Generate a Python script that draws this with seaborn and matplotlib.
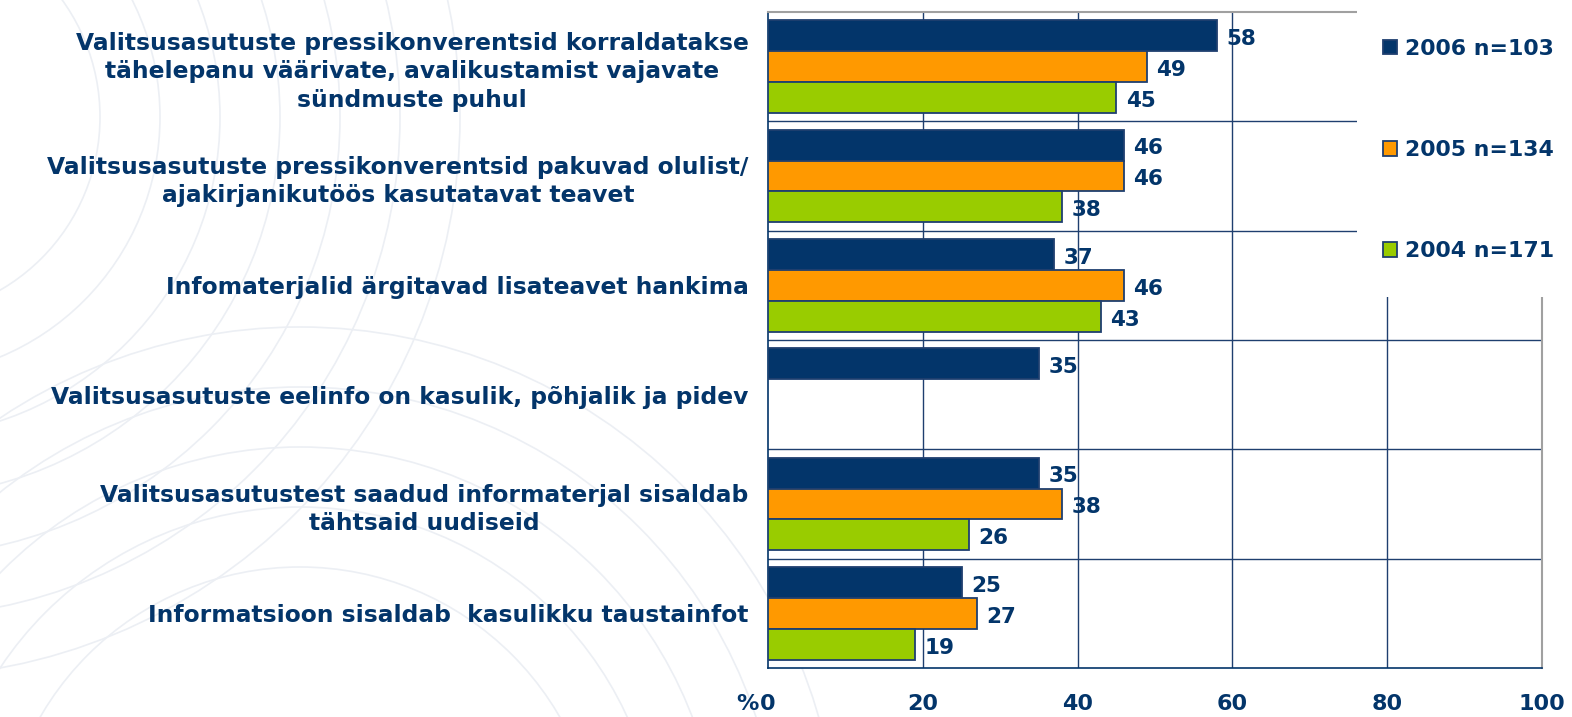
import matplotlib
matplotlib.use("Agg")
import matplotlib.pyplot as plt
from matplotlib.patches import Rectangle, Circle, Patch
from matplotlib.transforms import offset_copy
import seaborn as sns
import pandas as pd
import numpy as np

# data
categories = [
    "Valitsusasutuste pressikonverentsid korraldatakse\ntähelepanu väärivate, avalikustamist vajavate\nsündmuste puhul",
    "Valitsusasutuste pressikonverentsid pakuvad olulist/\najakirjanikutöös kasutatavat teavet",
    "Infomaterjalid ärgitavad lisateavet hankima",
    "Valitsusasutuste eelinfo on kasulik, põhjalik ja pidev",
    "Valitsusasutustest saadud informaterjal sisaldab\ntähtsaid uudiseid",
    "Informatsioon sisaldab  kasulikku taustainfot",
]
series = ["2006 n=103", "2005 n=134", "2004 n=171"]
values_2006 = [58, 46, 37, 35, 35, 25]
values_2005 = [49, 46, 46, np.nan, 38, 27]
values_2004 = [45, 38, 43, np.nan, 26, 19]
x_ticks = [0, 20, 40, 60, 80, 100]

navy = "#03356A"
colors = ["#03356A", "#FF9900", "#99CC00"]

df = pd.DataFrame({
    "cat": categories * 3,
    "series": [series[0]] * 6 + [series[1]] * 6 + [series[2]] * 6,
    "value": values_2006 + values_2005 + values_2004,
})

sns.set_style("white")
plt.rcParams["font.family"] = ["DejaVu Sans"]
fs_cat = 16.8
fs_val = 15.5
fs_tick = 16
fs_leg = 15.8

fig = plt.figure(figsize=(15.72, 7.17), dpi=100)

# faint decorative arcs in the background (left side)
for r in [2.0, 2.6, 3.2, 3.8, 4.4, 5.0, 5.6]:
    fig.add_artist(Circle((-1.0, 6.0), r, transform=fig.dpi_scale_trans,
                          fill=False, ec="#ECEFF4", lw=1.2, zorder=0))
for r in [3.0, 3.6, 4.2, 4.8, 5.4]:
    fig.add_artist(Circle((3.0, -1.5), r, transform=fig.dpi_scale_trans,
                          fill=False, ec="#ECEFF4", lw=1.2, zorder=0))

ax = fig.add_axes([768 / 1572, 1 - 668 / 717, (1542 - 768) / 1572, (668 - 12) / 717])
ax.set_axisbelow(True)

sns.barplot(data=df, y="cat", x="value", hue="series", hue_order=series,
            palette=colors, saturation=1, orient="h", width=0.85, ax=ax,
            edgecolor="#1F3F6F", linewidth=1.3, legend=False, zorder=3)

ax.set_xlim(0, 100)
ax.set_ylim(5.5, -0.5)

# value labels
for cont in ax.containers:
    for bar in cont:
        w = bar.get_width()
        if np.isnan(w) or w == 0:
            continue
        ax.text(w + 1.2, bar.get_y() + bar.get_height() / 2 + 0.03, f"{w:.0f}",
                va="center", ha="left", color=navy, fontsize=fs_val,
                fontweight="bold", zorder=4)

# grid and separators
for xv in [20, 40, 60, 80]:
    ax.axvline(xv, color="#1F3F6F", lw=1, zorder=1)
for yv in np.arange(0.5, 5.5, 1):
    ax.axhline(yv, color="#1F3F6F", lw=1, zorder=1)

ax.set_yticks(np.arange(-0.5, 6, 1))
ax.set_yticklabels([""] * 7)
ax.set_yticks(range(len(categories)), categories, minor=True)
ax.tick_params(axis="y", which="major", length=8, color=navy, width=1)
ax.tick_params(axis="y", which="minor", length=0, pad=14, labelsize=fs_cat,
               labelcolor=navy)
for lab in ax.get_yticklabels(minor=True):
    lab.set_fontweight("bold")
    lab.set_multialignment("center")
    lab.set_linespacing(1.3)

tick_len, tick_pad = 6.5, 12
ax.set_xticks(x_ticks)
ax.set_xticklabels([str(t) for t in x_ticks], fontsize=fs_tick,
                   fontweight="bold", color=navy)
ax.tick_params(axis="x", length=tick_len, color=navy, width=1, pad=tick_pad)
pct_tr = offset_copy(ax.get_xaxis_transform(), fig=fig, x=-7,
                     y=-(tick_len + tick_pad), units="points")
ax.text(0, 0, "%", transform=pct_tr, ha="right", va="top",
        fontsize=fs_tick, fontweight="bold", color=navy)

ax.set_xlabel("")
ax.set_ylabel("")
for side in ["left", "bottom"]:
    ax.spines[side].set_color(navy)
    ax.spines[side].set_linewidth(1.2)
for side in ["top", "right"]:
    ax.spines[side].set_color("#A0A0A0")
    ax.spines[side].set_linewidth(1.5)

# white box behind the legend covering the top-right of the plot
ax.add_patch(Rectangle((1357 / 1572, 1 - 297 / 717), 1, 1,
                       transform=fig.transFigure, facecolor="white",
                       edgecolor="none", clip_on=False, zorder=6))

handles = [Patch(facecolor=c, edgecolor="#1F3F6F", lw=1.3) for c in colors]
leg = fig.legend(handles, series, loc="upper left",
                 bbox_to_anchor=(1374 / 1572, 1 - 30 / 717),
                 frameon=False, fontsize=fs_leg, labelspacing=3.7,
                 handlelength=0.65, handleheight=0.65, handletextpad=0.35,
                 borderaxespad=0)
leg.set_zorder(7)
for t in leg.get_texts():
    t.set_color(navy)
    t.set_fontweight("bold")

fig.savefig("out.png", dpi=100)
